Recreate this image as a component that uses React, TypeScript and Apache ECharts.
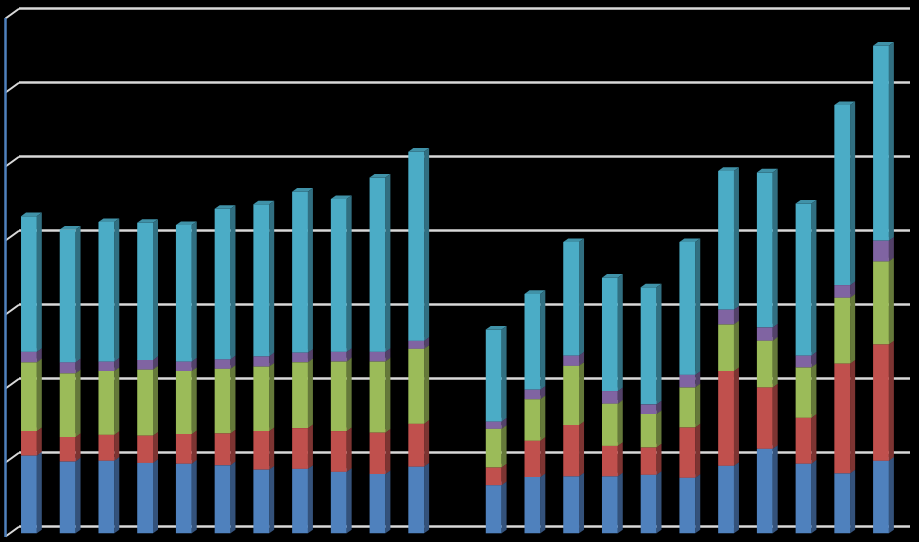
import React, { useEffect, useRef } from "react";
import * as echarts from "echarts";

const categories = ["1","2","3","4","5","6","7","8","9","10","11","","12","13","14","15","16","17","18","19","20","21","22"];
const gridValues = [0, 1, 2, 3, 4, 5, 6, 7];

const blue =   [1.05,.97,.98,.95,.94,.92,.86,.87,.83,.80,.90,null,.65,.76,.77,.77,.79,.75,.91,1.14,.94,.81,.98];
const red =    [.33,.33,.35,.37,.40,.43,.52,.55,.55,.56,.58,null,.24,.49,.69,.41,.37,.68,1.28,.83,.62,1.48,1.57];
const green =  [.93,.86,.86,.89,.85,.87,.87,.89,.94,.96,1.01,null,.52,.56,.80,.57,.45,.54,.63,.63,.68,.89,1.12];
const purple = [.14,.15,.13,.13,.13,.13,.14,.13,.13,.13,.11,null,.10,.13,.14,.17,.13,.17,.20,.18,.16,.17,.28];
const teal =   [1.83,1.79,1.88,1.85,1.84,2.03,2.05,2.17,2.06,2.35,2.55,null,1.24,1.29,1.53,1.53,1.58,1.79,1.87,2.09,2.05,2.43,2.63];

const stacks = [
  { name: "A", values: blue, front: "#4f81bd", side: "#34527b", top: "#436e9f" },
  { name: "B", values: red, front: "#c0504d", side: "#7d3432", top: "#a34442" },
  { name: "C", values: green, front: "#9bbb59", side: "#65793a", top: "#849f4c" },
  { name: "D", values: purple, front: "#8064a2", side: "#534169", top: "#6d558a" },
  { name: "E", values: teal, front: "#4bacc6", side: "#316f81", top: "#4092a8" },
];

const FRONT_W = 15.8;
const DX = 5;
const DY = 3.6;

function bar3d(params: any, api: any) {
  const i = api.value(0);
  const lo = api.coord([i, api.value(1)]);
  const hi = api.coord([i, api.value(2)]);
  const c = stacks[params.seriesIndex - 2];
  const x0 = lo[0] - FRONT_W / 2;
  const x1 = lo[0] + FRONT_W / 2;
  const yb = lo[1];
  const yt = hi[1];
  return {
    type: "group",
    children: [
      {
        type: "polygon",
        shape: { points: [[x1, yb], [x1 + DX, yb - DY], [x1 + DX, yt - DY], [x1, yt]] },
        style: { fill: c.side },
      },
      {
        type: "polygon",
        shape: { points: [[x0, yt], [x1, yt], [x1 + DX, yt - DY], [x0 + DX, yt - DY]] },
        style: { fill: c.top },
      },
      {
        type: "rect",
        shape: { x: x0, y: yt, width: FRONT_W, height: yb - yt },
        style: { fill: c.front },
      },
    ],
  };
}

function buildStackData(index: number) {
  return categories
    .map((_, i) => {
      const v = stacks[index].values[i];
      if (v === null) return null;
      let base = 0;
      for (let k = 0; k < index; k++) base += stacks[k].values[i] as number;
      return [i, base, base + (v as number)];
    })
    .filter(Boolean);
}

export default function App() {
  const ref = useRef<HTMLDivElement>(null);
  useEffect(() => {
    document.body.style.margin = "0";
    document.body.style.background = "#000";
    const chart = echarts.init(ref.current!, undefined, { renderer: "svg" });
    chart.setOption({
      animation: false,
      backgroundColor: "#000000",
      tooltip: { show: false },
      legend: { show: false },
      grid: [
        { left: 19, top: 8.7, width: 891, height: 518, containLabel: false },
        { left: 9.55, top: 14.6, width: 890.8, height: 518.7, containLabel: false },
      ],
      xAxis: [
        { type: "value", gridIndex: 0, min: 0, max: 1, show: false },
        { type: "category", gridIndex: 1, data: categories, show: false },
      ],
      yAxis: [
        {
          type: "value",
          gridIndex: 0,
          min: 0,
          max: 7,
          interval: 1,
          axisLabel: { show: false },
          axisTick: { show: false },
          axisLine: { show: false },
          splitLine: { show: true, lineStyle: { color: "#d9d9d9", width: 2.5 } },
        },
        { type: "value", gridIndex: 1, min: 0, max: 7, show: false },
      ],
      series: [
        {
          type: "custom",
          name: "ticks",
          xAxisIndex: 0,
          yAxisIndex: 0,
          silent: true,
          data: gridValues.map((v) => [0, v]),
          renderItem: (_: any, api: any) => {
            const p = api.coord([api.value(0), api.value(1)]);
            return {
              type: "line",
              shape: { x1: p[0], y1: p[1], x2: p[0] - 13.5, y2: p[1] + 9.8 },
              style: { stroke: "#d9d9d9", lineWidth: 2 },
            };
          },
        },
        {
          type: "custom",
          name: "axis",
          xAxisIndex: 0,
          yAxisIndex: 0,
          silent: true,
          data: [[0, gridValues[0], gridValues[gridValues.length - 1]]],
          renderItem: (_: any, api: any) => {
            const a = api.coord([api.value(0), api.value(1)]);
            const b = api.coord([api.value(0), api.value(2)]);
            return {
              type: "line",
              shape: { x1: a[0] - 13.5, y1: a[1] + 10.3, x2: b[0] - 13.5, y2: b[1] + 9.3 },
              style: { stroke: "#4f81bd", lineWidth: 2.5 },
            };
          },
        },
        ...stacks.map((s, index) => ({
          type: "custom",
          name: s.name,
          xAxisIndex: 1,
          yAxisIndex: 1,
          silent: true,
          encode: { x: 0, y: [1, 2] },
          data: buildStackData(index),
          renderItem: bar3d,
        })),
      ],
    });
    return () => chart.dispose();
  }, []);
  return <div ref={ref} style={{ width: 919, height: 542, background: "#000" }} />;
}
